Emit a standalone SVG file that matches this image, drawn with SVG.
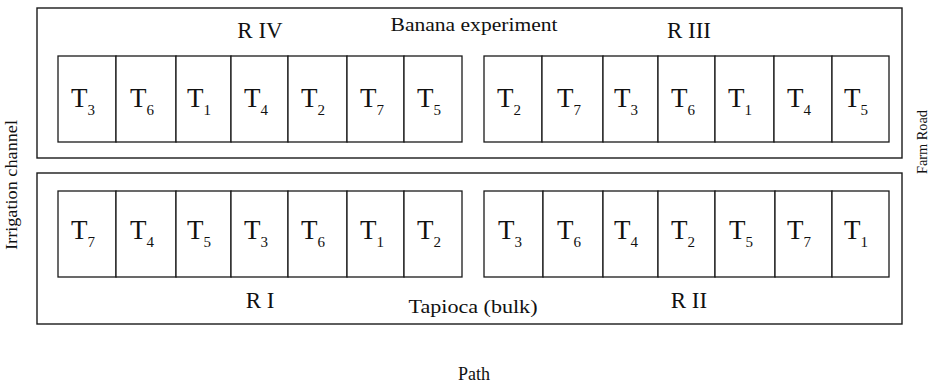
<svg xmlns="http://www.w3.org/2000/svg" width="933" height="384" viewBox="0 0 933 384">
<style>
.box{fill:none;stroke:#1a1a1a;stroke-width:1.4}
.cell{fill:#fff;stroke:#1a1a1a;stroke-width:1.3}
.t{font-family:"Liberation Serif",serif;font-size:27px;fill:#111;text-anchor:middle}
.s{font-size:15px}
.lbl{font-family:"Liberation Serif",serif;fill:#111;text-anchor:middle}
</style>
<rect width="933" height="384" fill="#fff"/>
<g id="field-top">
<rect class="box" x="37" y="8" width="865" height="150"/>
<text class="lbl" x="260" y="38" font-size="23">R IV</text>
<text class="lbl" x="474" y="31" font-size="19" textLength="167" lengthAdjust="spacingAndGlyphs">Banana experiment</text>
<text class="lbl" x="689" y="38" font-size="23">R III</text>
</g>
<g id="field-bottom">
<rect class="box" x="37" y="173" width="865" height="151"/>
<text class="lbl" x="260" y="308" font-size="23">R I</text>
<text class="lbl" x="473" y="313" font-size="19" textLength="129" lengthAdjust="spacingAndGlyphs">Tapioca  (bulk)</text>
<text class="lbl" x="689" y="308" font-size="23">R II</text>
</g>
<g id="RIV">
<g id="RIV-1"><rect class="cell" x="58" y="56" width="58" height="86"/><text class="t" x="83" y="107">T<tspan class="s" dy="8">3</tspan></text></g>
<g id="RIV-2"><rect class="cell" x="116" y="56" width="60" height="86"/><text class="t" x="142" y="107">T<tspan class="s" dy="8">6</tspan></text></g>
<g id="RIV-3"><rect class="cell" x="176" y="56" width="55" height="86"/><text class="t" x="199" y="107">T<tspan class="s" dy="8">1</tspan></text></g>
<g id="RIV-4"><rect class="cell" x="231" y="56" width="57" height="86"/><text class="t" x="256" y="107">T<tspan class="s" dy="8">4</tspan></text></g>
<g id="RIV-5"><rect class="cell" x="288" y="56" width="59" height="86"/><text class="t" x="313" y="107">T<tspan class="s" dy="8">2</tspan></text></g>
<g id="RIV-6"><rect class="cell" x="347" y="56" width="57" height="86"/><text class="t" x="372" y="107">T<tspan class="s" dy="8">7</tspan></text></g>
<g id="RIV-7"><rect class="cell" x="404" y="56" width="58" height="86"/><text class="t" x="429" y="107">T<tspan class="s" dy="8">5</tspan></text></g>
</g>
<g id="RIII">
<g id="RIII-1"><rect class="cell" x="484" y="56" width="58" height="86"/><text class="t" x="509" y="107">T<tspan class="s" dy="8">2</tspan></text></g>
<g id="RIII-2"><rect class="cell" x="542" y="56" width="61" height="86"/><text class="t" x="569" y="107">T<tspan class="s" dy="8">7</tspan></text></g>
<g id="RIII-3"><rect class="cell" x="603" y="56" width="55" height="86"/><text class="t" x="626" y="107">T<tspan class="s" dy="8">3</tspan></text></g>
<g id="RIII-4"><rect class="cell" x="658" y="56" width="57" height="86"/><text class="t" x="683" y="107">T<tspan class="s" dy="8">6</tspan></text></g>
<g id="RIII-5"><rect class="cell" x="715" y="56" width="59" height="86"/><text class="t" x="740" y="107">T<tspan class="s" dy="8">1</tspan></text></g>
<g id="RIII-6"><rect class="cell" x="774" y="56" width="58" height="86"/><text class="t" x="799" y="107">T<tspan class="s" dy="8">4</tspan></text></g>
<g id="RIII-7"><rect class="cell" x="832" y="56" width="57" height="86"/><text class="t" x="856" y="107">T<tspan class="s" dy="8">5</tspan></text></g>
</g>
<g id="RI">
<g id="RI-1"><rect class="cell" x="58" y="191" width="58" height="86"/><text class="t" x="83" y="239">T<tspan class="s" dy="8">7</tspan></text></g>
<g id="RI-2"><rect class="cell" x="116" y="191" width="60" height="86"/><text class="t" x="142" y="239">T<tspan class="s" dy="8">4</tspan></text></g>
<g id="RI-3"><rect class="cell" x="176" y="191" width="55" height="86"/><text class="t" x="199" y="239">T<tspan class="s" dy="8">5</tspan></text></g>
<g id="RI-4"><rect class="cell" x="231" y="191" width="57" height="86"/><text class="t" x="256" y="239">T<tspan class="s" dy="8">3</tspan></text></g>
<g id="RI-5"><rect class="cell" x="288" y="191" width="59" height="86"/><text class="t" x="313" y="239">T<tspan class="s" dy="8">6</tspan></text></g>
<g id="RI-6"><rect class="cell" x="347" y="191" width="57" height="86"/><text class="t" x="372" y="239">T<tspan class="s" dy="8">1</tspan></text></g>
<g id="RI-7"><rect class="cell" x="404" y="191" width="58" height="86"/><text class="t" x="429" y="239">T<tspan class="s" dy="8">2</tspan></text></g>
</g>
<g id="RII">
<g id="RII-1"><rect class="cell" x="484" y="191" width="59" height="86"/><text class="t" x="510" y="239">T<tspan class="s" dy="8">3</tspan></text></g>
<g id="RII-2"><rect class="cell" x="543" y="191" width="60" height="86"/><text class="t" x="569" y="239">T<tspan class="s" dy="8">6</tspan></text></g>
<g id="RII-3"><rect class="cell" x="603" y="191" width="55" height="86"/><text class="t" x="626" y="239">T<tspan class="s" dy="8">4</tspan></text></g>
<g id="RII-4"><rect class="cell" x="658" y="191" width="57" height="86"/><text class="t" x="683" y="239">T<tspan class="s" dy="8">2</tspan></text></g>
<g id="RII-5"><rect class="cell" x="715" y="191" width="60" height="86"/><text class="t" x="741" y="239">T<tspan class="s" dy="8">5</tspan></text></g>
<g id="RII-6"><rect class="cell" x="775" y="191" width="57" height="86"/><text class="t" x="799" y="239">T<tspan class="s" dy="8">7</tspan></text></g>
<g id="RII-7"><rect class="cell" x="832" y="191" width="57" height="86"/><text class="t" x="856" y="239">T<tspan class="s" dy="8">1</tspan></text></g>
</g>
<g id="side-labels">
<text class="lbl" font-size="17" transform="translate(17,185) rotate(-90)" textLength="130" lengthAdjust="spacingAndGlyphs">Irrigation channel</text>
<text class="lbl" font-size="15" transform="translate(927,142) rotate(-90)" textLength="64" lengthAdjust="spacingAndGlyphs">Farm Road</text>
<text class="lbl" x="474" y="380" font-size="18">Path</text>
</g>
<g id="connectors"></g>
</svg>
